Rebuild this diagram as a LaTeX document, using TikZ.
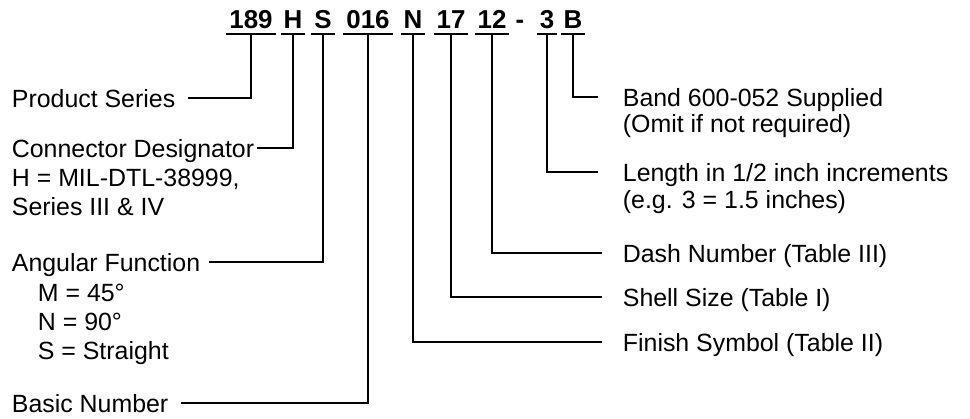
\documentclass[tikz,border=0pt]{standalone}
\usepackage{fontspec}
\setmainfont{Liberation Sans}
\begin{document}
\begin{tikzpicture}[x=1bp,y=-1bp, line width=1.8bp, line join=miter,
  lbl/.style={inner sep=0pt, anchor=west, font=\fontsize{25}{30}\selectfont, text height=18bp, text depth=0pt},
  hdr/.style={inner xsep=2bp, inner ysep=5bp, font=\fontsize{26}{30}\selectfont\bfseries, text height=19bp, text depth=0pt},
  lead/.style={line width=1.8bp}
]
\useasboundingbox (0,0) rectangle (970,418);
% header pieces
\node[hdr] (h189) at (251,18.5) {189};
\node[hdr] (hH)   at (293,18.5) {H};
\node[hdr] (hS)   at (323,18.5) {S};
\node[hdr] (h016) at (368,18.5) {016};
\node[hdr] (hN)   at (413,18.5) {N};
\node[hdr] (h17)  at (451,18.5) {17};
\node[hdr] (h12)  at (492,18.5) {12};
\node[hdr] (hdash) at (520,18.5) {-};
\node[hdr] (h3)   at (547,18.5) {3};
\node[hdr] (hB)   at (573,18.5) {B};
\foreach \n in {h189,hH,hS,h016,hN,h17,h12,h3,hB}
  \draw[lead] (\n.south west) -- (\n.south east);
% left labels
\node[lbl] (ps)  at (11,98)  {Product Series};
\node[lbl] (cd)  at (11,148) {Connector Designator};
\node[lbl] (cd2) at (11,177) {H = MIL-DTL-38999,};
\node[lbl] (cd3) at (11,206) {Series III \& IV};
\node[lbl] (af)  at (11,262) {Angular Function};
\node[lbl] (am)  at (37,292) {M = 45°};
\node[lbl] (an)  at (37,321) {N = 90°};
\node[lbl] (as)  at (37,350) {S = Straight};
\node[lbl] (bn)  at (11,403) {Basic Number};
% right labels
\node[lbl] (band)   at (622,97)  {Band 600-052 Supplied};
\node[lbl] (omit)   at (622,123) {(Omit if not required)};
\node[lbl] (len)    at (622,172) {Length in 1/2 inch increments};
\node[lbl] (eg)     at (622,199) {(e.g. 3 = 1.5 inches)};
\node[lbl] (dash)   at (622,253) {Dash Number (Table III)};
\node[lbl] (shell)  at (622,297) {Shell Size (Table I)};
\node[lbl] (finish) at (622,342) {Finish Symbol (Table II)};
% leaders left
\draw[lead] (h189.south) |- ([xshift=12bp]ps.east);
\draw[lead] (hH.south)   |- ([xshift=2bp]cd.east);
\draw[lead] (hS.south)   |- ([xshift=8bp]af.east);
\draw[lead] (h016.south) |- ([xshift=12bp]bn.east);
% leaders right
\draw[lead] (hB.south)  |- ([xshift=-24bp]band.west);
\draw[lead] (h3.south)  |- ([xshift=-24bp]len.west);
\draw[lead] (h12.south) |- ([xshift=-20bp]dash.west);
\draw[lead] (h17.south) |- ([xshift=-20bp]shell.west);
\draw[lead] (hN.south)  |- ([xshift=-20bp]finish.west);
\end{tikzpicture}
\end{document}
